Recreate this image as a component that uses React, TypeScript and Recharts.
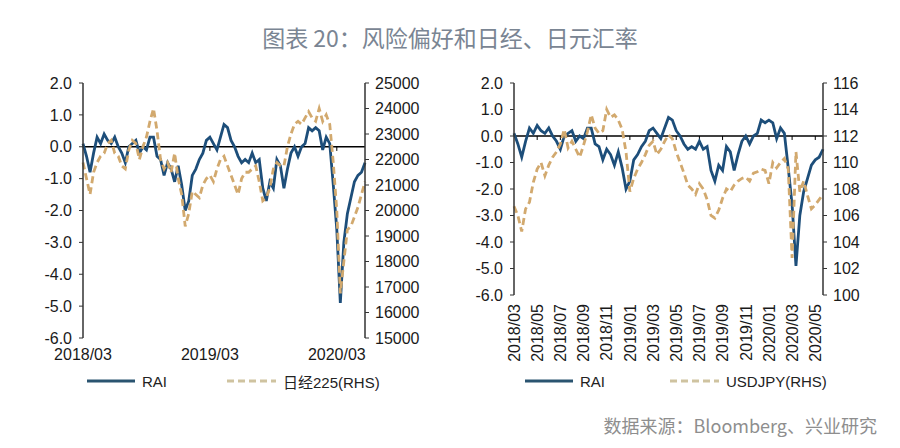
import React from "react";
import { LineChart, Line, XAxis, YAxis, ReferenceLine } from "recharts";

const BLUE = "#1d4e7a";
const TAN = "#d2a96e";
const AXIS = "#333";
const FONT = "'Liberation Sans', 'Noto Sans CJK SC', sans-serif";

// one point every ~10 days, 2018/03 .. 2020/05
const months = [
  "2018/03", "2018/04", "2018/05", "2018/06", "2018/07", "2018/08", "2018/09",
  "2018/10", "2018/11", "2018/12", "2019/01", "2019/02", "2019/03", "2019/04",
  "2019/05", "2019/06", "2019/07", "2019/08", "2019/09", "2019/10", "2019/11",
  "2019/12", "2020/01", "2020/02", "2020/03", "2020/04", "2020/05",
];
const days = ["01", "11", "21"];
const dates = months.flatMap((m) => days.map((d) => `${m}/${d}`));

const rai = [
  0.1, -0.3, -0.8, -0.2, 0.3, 0.1, 0.4, 0.2, 0.1, 0.3,
  0.0, -0.2, -0.5, 0.0, 0.1, 0.2, -0.2, 0.0, -0.1, 0.3,
  0.3, -0.3, -0.4, -0.9, -0.5, -0.7, -1.1, -0.6, -1.2, -2.0,
  -1.7, -0.9, -0.7, -0.4, -0.2, 0.2, 0.3, 0.1, -0.1, 0.3,
  0.7, 0.6, 0.2, 0.0, -0.3, -0.5, -0.4, -0.5, -0.2, -0.5,
  -0.4, -1.3, -1.7, -1.1, -1.3, -0.4, -0.6, -1.3, -0.7, -0.2,
  0.0, -0.3, 0.0, 0.1, 0.6, 0.5, 0.6, 0.5, -0.1, 0.3,
  0.1, -1.2, -2.6, -4.9, -3.0, -2.1, -1.6, -1.1, -0.9, -0.8,
  -0.5,
];

const nikkei = [
  21880, 21250, 20630, 21500, 21880, 22130, 22250, 22630, 22750, 22250,
  22130, 21750, 21630, 22380, 22750, 22630, 22000, 22500, 22880, 23500,
  24000, 23130, 22000, 21630, 21880, 21500, 22250, 21250, 20630, 19380,
  19880, 20750, 20630, 20500, 21000, 21250, 21380, 21130, 21630, 22000,
  22130, 21750, 21380, 21000, 20630, 21250, 21500, 21500, 21630, 21750,
  21130, 20380, 20500, 20880, 21630, 21880, 21750, 21750, 22500, 23000,
  23380, 23500, 23380, 23630, 23880, 23630, 23500, 24000, 23500, 23750,
  23380, 21880, 20000, 16750, 18000, 19250, 19380, 19750, 20130, 20630,
  21130,
];

const usdjpy = [
  106.7, 106.0, 104.8, 106.5, 107.0, 108.5, 109.5, 110.0, 109.0, 109.8,
  110.4, 110.8, 111.4, 112.5, 111.1, 111.6, 111.0, 110.4, 111.3, 112.3,
  113.6, 112.6, 112.2, 112.4, 114.0, 113.4, 113.6, 113.2, 112.5, 110.8,
  107.8, 108.8, 109.5, 110.0, 110.6, 111.3, 111.6, 110.6, 111.0, 111.6,
  112.1, 111.8, 110.8, 110.0, 109.2, 108.3, 108.0, 107.6, 108.4, 108.0,
  107.2, 106.0, 105.8, 106.4, 107.3, 108.0, 107.8, 108.3, 108.6, 108.8,
  108.9, 108.6, 109.2, 109.3, 109.5, 109.4, 108.4, 110.0, 109.6, 110.0,
  110.3, 109.5, 102.8, 110.8, 107.8, 108.6, 107.5, 106.5, 106.8, 107.2,
  107.6,
];

const raiTicks = [-6, -5, -4, -3, -2, -1, 0, 1, 2];
const nikkeiTicks = [15000, 16000, 17000, 18000, 19000, 20000, 21000, 22000, 23000, 24000, 25000];
const jpyTicks = [100, 102, 104, 106, 108, 110, 112, 114, 116];
const leftXTicks = ["2018/03/01", "2019/03/01", "2020/03/01"];
const rightXTicks = [
  "2018/03/01", "2018/05/01", "2018/07/01", "2018/09/01", "2018/11/01",
  "2019/01/01", "2019/03/01", "2019/05/01", "2019/07/01", "2019/09/01",
  "2019/11/01", "2020/01/01", "2020/03/01", "2020/05/01",
];

const leftData = dates.map((date, i) => ({ date, rai: rai[i], nikkei: nikkei[i] }));
const rightData = dates.map((date, i) => ({ date, rai: rai[i], usdjpy: usdjpy[i] }));

const tickStyle = { fontSize: 16, fill: "#1a1a1a", fontFamily: FONT };
const monthLabel = (v: string) => v.slice(0, 7);

function RotatedTick({ x, y, payload }: any) {
  return (
    <g transform={`translate(${x},${y})`}>
      <text
        transform="rotate(-90)"
        textAnchor="end"
        dy="0.36em"
        style={tickStyle}
        fill="#1a1a1a"
      >
        {monthLabel(payload.value)}
      </text>
    </g>
  );
}

function LegendItem({ dashed, label, left, lineW }: { dashed?: boolean; label: string; left: number; lineW: number }) {
  return (
    <div style={{ position: "absolute", left, top: 372, display: "flex", alignItems: "center", height: 18 }}>
      <svg width={lineW} height={6}>
        <line
          x1={0}
          y1={3}
          x2={lineW}
          y2={3}
          stroke={dashed ? "#cfc3a0" : "#2a5470"}
          strokeWidth={3}
          strokeDasharray={dashed ? "7 4" : undefined}
        />
      </svg>
      <span style={{ marginLeft: 7, fontSize: 15, color: "#222", fontFamily: FONT, whiteSpace: "nowrap" }}>{label}</span>
    </div>
  );
}

function zeroTicks(ticks: string[], yAxisId: string, len: number) {
  return ticks.slice(1).map((t) => (
    <ReferenceLine
      key={t}
      yAxisId={yAxisId}
      segment={[{ x: t, y: 0 }, { x: t, y: -len }]}
      stroke="#000"
      strokeWidth={1}
    />
  ));
}

export default function App() {
  return (
    <div style={{ position: "absolute", left: 0, top: 0, width: 900, height: 448, background: "#fff", overflow: "hidden" }}>
      <div
        style={{
          position: "absolute",
          top: 24,
          left: 0,
          width: 900,
          textAlign: "center",
          fontSize: 23,
          lineHeight: "26px",
          color: "#7a8593",
          fontFamily: "'Noto Sans CJK SC', sans-serif",
        }}
      >
        图表 20：风险偏好和日经、日元汇率
      </div>

      <div style={{ position: "absolute", left: 0, top: 0 }}>
        <LineChart width={450} height={448} data={leftData} margin={{ top: 83, right: 0, bottom: 80, left: 0 }}>
          <XAxis
            dataKey="date"
            type="category"
            ticks={leftXTicks}
            interval={0}
            tickFormatter={monthLabel}
            axisLine={false}
            tickLine={false}
            tickSize={0}
            tickMargin={11}
            height={30}
            tick={tickStyle}
          />
          <YAxis
            yAxisId="l"
            orientation="left"
            width={83}
            domain={[-6, 2]}
            ticks={raiTicks}
            interval={0}
            tickFormatter={(v: number) => v.toFixed(1)}
            axisLine={{ stroke: AXIS, strokeWidth: 1.5 }}
            tickLine={{ stroke: AXIS }}
            tickSize={4}
            tickMargin={7}
            tick={tickStyle}
          />
          <YAxis
            yAxisId="r"
            orientation="right"
            width={85}
            domain={[15000, 25000]}
            ticks={nikkeiTicks}
            interval={0}
            axisLine={{ stroke: AXIS, strokeWidth: 1.5 }}
            tickLine={{ stroke: AXIS }}
            tickSize={4}
            tickMargin={6}
            tick={tickStyle}
          />
          <ReferenceLine yAxisId="l" y={0} stroke="#000" strokeWidth={1.5} />
          {zeroTicks(leftXTicks, "l", 0.13)}
          <Line yAxisId="l" type="linear" dataKey="rai" stroke={BLUE} strokeWidth={2.8} dot={false} isAnimationActive={false} />
          <Line
            yAxisId="r"
            type="linear"
            dataKey="nikkei"
            stroke={TAN}
            strokeWidth={2.8}
            strokeDasharray="7 4"
            dot={false}
            isAnimationActive={false}
          />
        </LineChart>
      </div>

      <div style={{ position: "absolute", left: 450, top: 0 }}>
        <LineChart width={450} height={448} data={rightData} margin={{ top: 83, right: 0, bottom: 83, left: 0 }}>
          <XAxis
            dataKey="date"
            type="category"
            ticks={rightXTicks}
            interval={0}
            axisLine={false}
            tickLine={false}
            tickSize={0}
            tickMargin={9}
            height={70}
            tick={<RotatedTick />}
          />
          <YAxis
            yAxisId="l"
            orientation="left"
            width={64}
            domain={[-6, 2]}
            ticks={raiTicks}
            interval={0}
            tickFormatter={(v: number) => v.toFixed(1)}
            axisLine={{ stroke: AXIS, strokeWidth: 1.5 }}
            tickLine={{ stroke: AXIS }}
            tickSize={4}
            tickMargin={7}
            tick={tickStyle}
          />
          <YAxis
            yAxisId="r"
            orientation="right"
            width={77}
            domain={[100, 116]}
            ticks={jpyTicks}
            interval={0}
            axisLine={{ stroke: AXIS, strokeWidth: 1.5 }}
            tickLine={{ stroke: AXIS }}
            tickSize={4}
            tickMargin={6}
            tick={tickStyle}
          />
          <ReferenceLine yAxisId="l" y={0} stroke="#000" strokeWidth={1.5} />
          {zeroTicks(rightXTicks, "l", 0.15)}
          <Line yAxisId="l" type="linear" dataKey="rai" stroke={BLUE} strokeWidth={2.8} dot={false} isAnimationActive={false} />
          <Line
            yAxisId="r"
            type="linear"
            dataKey="usdjpy"
            stroke={TAN}
            strokeWidth={2.8}
            strokeDasharray="7 4"
            dot={false}
            isAnimationActive={false}
          />
        </LineChart>
      </div>

      <LegendItem left={87} lineW={48} label="RAI" />
      <LegendItem left={227} lineW={49} dashed label="日经225(RHS)" />
      <LegendItem left={525} lineW={48} label="RAI" />
      <LegendItem left={670} lineW={49} dashed label="USDJPY(RHS)" />

      <div
        style={{
          position: "absolute",
          right: 23,
          top: 414,
          fontSize: 18,
          lineHeight: "22px",
          color: "#8e8e8e",
          fontFamily: "'Noto Sans CJK SC', sans-serif",
          whiteSpace: "nowrap",
        }}
      >
        数据来源：Bloomberg、兴业研究
      </div>
    </div>
  );
}
